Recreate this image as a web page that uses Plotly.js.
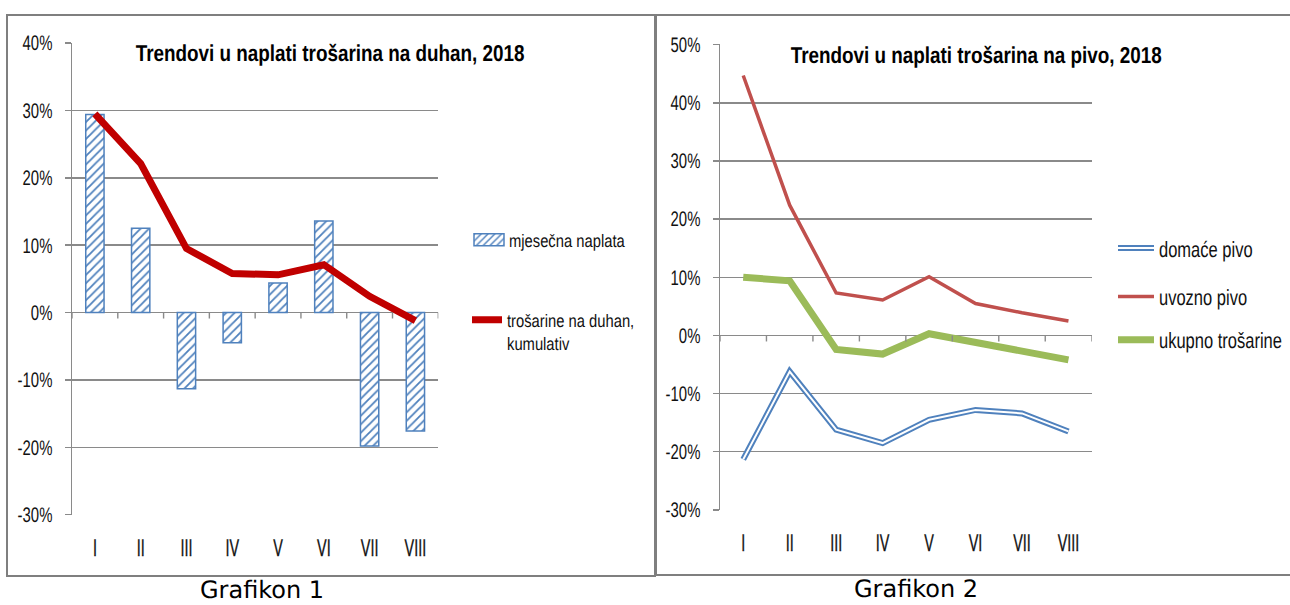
<!DOCTYPE html>
<html><head><meta charset="utf-8">
<script src="https://cdn.plot.ly/plotly-3.0.1.min.js"></script>
<style>html,body{margin:0;padding:0;background:#fff;overflow:hidden}#chart{width:1290px;height:605px}
#chart svg text{text-rendering:geometricPrecision}</style>
</head><body><div id="chart"></div>
<script>
// ---- data ----
const months = ['I', 'II', 'III', 'IV', 'V', 'VI', 'VII', 'VIII'];
const duhanMjesecna = [0.294, 0.125, -0.113, -0.045, 0.044, 0.136, -0.198, -0.176];
const duhanKumulativ = [0.295, 0.221, 0.095, 0.058, 0.056, 0.071, 0.024, -0.012];
const domacePivo = [-0.213, -0.062, -0.162, -0.185, -0.145, -0.128, -0.134, -0.165];
const uvoznoPivo = [0.447, 0.224, 0.073, 0.061, 0.101, 0.055, 0.039, 0.025];
const ukupnoTrosarine = [0.100, 0.094, -0.024, -0.032, 0.003, -0.012, -0.025, -0.042];
const namesDuhan = ['mjesečna naplata', 'trošarine na duhan,<br>kumulativ'];
const namesPivo = ['domaće pivo', 'uvozno pivo', 'ukupno trošarine'];
const titleDuhan = 'Trendovi u naplati trošarina na duhan, 2018';
const titlePivo = 'Trendovi u naplati trošarina na pivo, 2018';
const captions = ['Grafikon 1', 'Grafikon 2'];
const rangeDuhan = [-0.3, 0.4];
const rangePivo = [-0.3, 0.5];

// ---- style ----
const NARROW = '"Liberation Sans", Arimo, Arial, sans-serif';
const CAPTION_FONT = '"DejaVu Sans", Verdana, sans-serif';
// font size -> horizontal squeeze (imitates the condensed, tall lettering of the original)
const FS = {xtick: 24, ytick: 21, legL: 18, legR: 22, title: 23};
const SQUEEZE = {24: 0.6, 21: 0.71, 18: 0.82, 22: 0.75, 23: 0.82};
const GRID = '#8a8a8a';
const W = 1290, H = 605;
const px = v => v / W;
const py = v => (H - v) / H;
const EPS = 0.0006;

function pctTicks(r) {
  const vals = [], txt = [];
  for (let k = Math.round(r[0] * 10); k <= Math.round(r[1] * 10); k++) {
    vals.push(k / 10); txt.push((k * 10) + '%');
  }
  return {vals, txt};
}
function yAxis(domain, anchor, r) {
  const t = pctTicks(r);
  return {
    domain, anchor, range: [r[0] - EPS, r[1] + EPS], tickvals: t.vals, ticktext: t.txt,
    showgrid: true, gridcolor: GRID, gridwidth: 1.4,
    showline: true, linecolor: GRID, linewidth: 1.4,
    ticks: 'outside', ticklen: 6, tickcolor: GRID, tickwidth: 1.4,
    zeroline: true, zerolinecolor: GRID, zerolinewidth: 1.4,
    ticklabelstandoff: 8,
    tickfont: {family: NARROW, size: FS.ytick, color: '#111'}, fixedrange: true
  };
}
function xAxis(domain, anchor) {
  return {
    domain, anchor, type: 'category', categoryarray: months, categoryorder: 'array',
    range: [-0.5, months.length - 0.5],
    showgrid: false, showline: false, zeroline: false, ticks: '',
    ticklabelstandoff: 16,
    tickfont: {family: NARROW, size: FS.xtick, color: '#111'}, fixedrange: true
  };
}
function boundaryTicks(xref, yref) {
  const s = [];
  for (let i = 0; i <= months.length; i++) {
    s.push({type: 'line', xref, yref, x0: i - 0.5, x1: i - 0.5,
      ysizemode: 'pixel', yanchor: 0, y0: 0, y1: -6,
      line: {color: GRID, width: 1.4}});
  }
  return s;
}

const traces = [
  {type: 'bar', x: months, y: duhanMjesecna, name: namesDuhan[0], xaxis: 'x', yaxis: 'y',
   legend: 'legend',
   marker: {color: '#ffffff', line: {color: '#4F81BD', width: 1.5},
            pattern: {shape: '/', fgcolor: '#4F81BD', bgcolor: '#ffffff', size: 6, solidity: 0.3}}},
  {type: 'scatter', mode: 'lines', x: months, y: duhanKumulativ, name: namesDuhan[1], xaxis: 'x', yaxis: 'y',
   legend: 'legend2', line: {color: '#C00000', width: 7}},
  {type: 'scatter', mode: 'lines', x: months, y: domacePivo, name: namesPivo[0], xaxis: 'x2', yaxis: 'y2',
   legend: 'legend3', line: {color: '#4F81BD', width: 6}},
  {type: 'scatter', mode: 'lines', x: months, y: domacePivo, name: namesPivo[0], xaxis: 'x2', yaxis: 'y2',
   legend: 'legend6', line: {color: '#ffffff', width: 2}},
  {type: 'scatter', mode: 'lines', x: months, y: uvoznoPivo, name: namesPivo[1], xaxis: 'x2', yaxis: 'y2',
   legend: 'legend4', line: {color: '#C0504D', width: 3.5}},
  {type: 'scatter', mode: 'lines', x: months, y: ukupnoTrosarine, name: namesPivo[2], xaxis: 'x2', yaxis: 'y2',
   legend: 'legend5', line: {color: '#9BBB59', width: 7}}
];

function leg(x, y, size, extra) {
  return Object.assign({x, y, xanchor: 'left', yanchor: 'middle', bgcolor: 'rgba(0,0,0,0)', borderwidth: 0,
    font: {family: NARROW, size, color: '#111'}, itemwidth: 30, itemclick: false, itemdoubleclick: false}, extra || {});
}
const rightLeg = {itemwidth: 36, orientation: 'h', entrywidth: 122, entrywidthmode: 'pixels'};

const layout = {
  width: W, height: H, margin: {l: 0, r: 0, t: 0, b: 0, autoexpand: false},
  paper_bgcolor: '#ffffff', plot_bgcolor: 'rgba(0,0,0,0)',
  showlegend: true, bargap: 0.6, hovermode: false,
  xaxis: xAxis([px(72), px(438.3)], 'y'),
  yaxis: yAxis([py(515), py(42.7)], 'x', rangeDuhan),
  xaxis2: xAxis([px(720), px(1091.7)], 'y2'),
  yaxis2: yAxis([py(510.3), py(44.3)], 'x2', rangePivo),
  legend: leg(px(469), py(240), FS.legL),
  legend2: leg(px(467), py(331.5), FS.legL, {valign: 'top'}),
  legend3: leg(px(1113), py(248.3), FS.legR, rightLeg),
  legend4: leg(px(1113), py(296.7), FS.legR, rightLeg),
  legend5: leg(px(1113), py(340), FS.legR, rightLeg),
  legend6: leg(px(1113), py(248.3), FS.legR, Object.assign({}, rightLeg, {font: {family: NARROW, size: FS.legR, color: 'rgba(0,0,0,0)'}})),
  shapes: [
    {type: 'rect', xref: 'paper', yref: 'paper', x0: px(7), x1: px(655), y0: py(576), y1: py(15),
     line: {color: '#7f7f7f', width: 2}, layer: 'below'},
    {type: 'rect', xref: 'paper', yref: 'paper', x0: px(656), x1: px(1300), y0: py(575), y1: py(15),
     line: {color: '#7f7f7f', width: 2}, layer: 'below'}
  ].concat(boundaryTicks('x', 'y'), boundaryTicks('x2', 'y2')),
  annotations: [
    {text: titleDuhan, xref: 'paper', yref: 'paper', x: px(330), y: py(53), xanchor: 'center', yanchor: 'middle',
     showarrow: false, font: {family: NARROW, size: FS.title, color: '#000', weight: 'bold'}},
    {text: titlePivo, xref: 'paper', yref: 'paper', x: px(976.7), y: py(55), xanchor: 'center', yanchor: 'middle',
     showarrow: false, font: {family: NARROW, size: FS.title, color: '#000', weight: 'bold'}},
    {text: captions[0], xref: 'paper', yref: 'paper', x: px(262), y: py(590), xanchor: 'center', yanchor: 'middle',
     showarrow: false, font: {family: CAPTION_FONT, size: 24, color: '#000'}},
    {text: captions[1], xref: 'paper', yref: 'paper', x: px(916), y: py(589), xanchor: 'center', yanchor: 'middle',
     showarrow: false, font: {family: CAPTION_FONT, size: 24, color: '#000'}}
  ]
};

function squeezeText(gd) {
  gd.querySelectorAll('text').forEach(function (t) {
    const ff = (t.style.fontFamily || '') + ' ' + (t.getAttribute('font-family') || '');
    if (ff.indexOf('Liberation') === -1) return;
    const size = Math.round(parseFloat(t.style.fontSize || t.getAttribute('font-size') || '0'));
    const s = SQUEEZE[size] || 0.82;
    const x = parseFloat(t.getAttribute('x')) || 0;
    const tr = t.getAttribute('transform') || '';
    t.setAttribute('transform', tr + ' translate(' + x + ',0) scale(' + s + ',1) translate(' + (-x) + ',0)');
    if (size === FS.xtick) {
      t.style.stroke = '#111';
      t.style.strokeWidth = '0.35px';
    }
  });
}

Plotly.newPlot('chart', traces, layout, {staticPlot: true, displayModeBar: false}).then(function (gd) {
  try {
    gd.querySelectorAll('g.legendpoints path').forEach(function (p) {
      const d = (p.getAttribute('d') || '').replace(/\s/g, '');
      if (d.indexOf('M6,6H-6V-6H6Z') === 0) p.setAttribute('d', 'M15,6H-15V-6H15Z');
    });
  } catch (e) {}
  try { squeezeText(gd); } catch (e) {}
});
</script>
</body></html>
